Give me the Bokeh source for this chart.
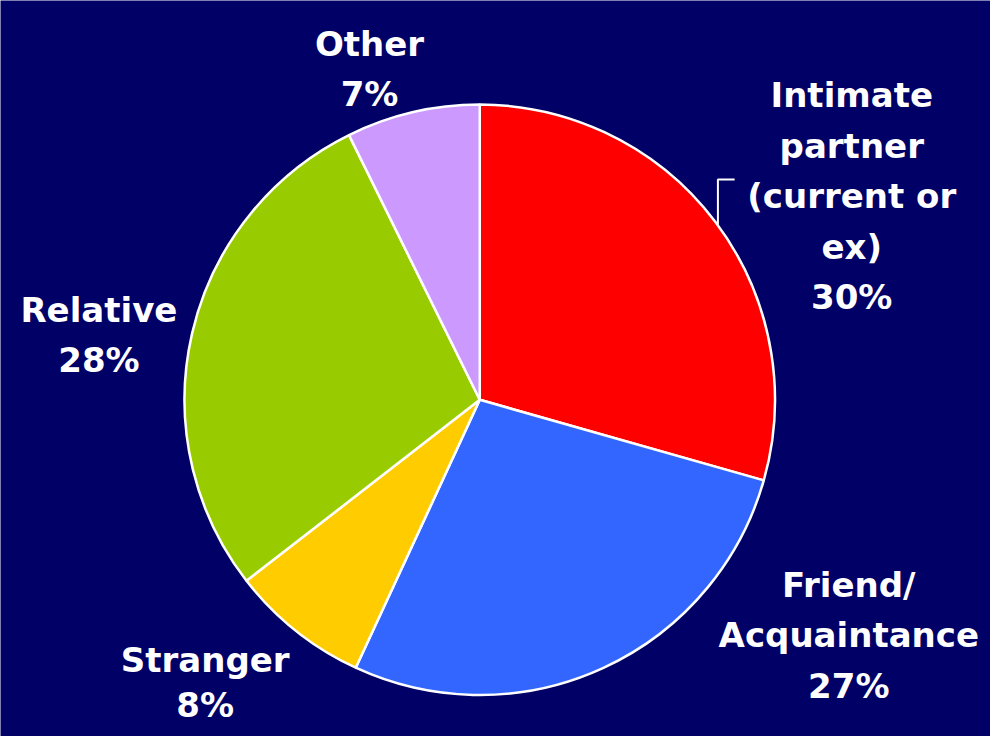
import math
from bokeh.plotting import figure
from bokeh.models import Range1d, ColumnDataSource
from bokeh.core.properties import value
from bokeh.embed import file_html
from bokeh.resources import INLINE

# ---- data ----
categories = ["Intimate partner (current or ex)", "Friend/Acquaintance", "Stranger", "Relative", "Other"]
shares = [29.4, 27.5, 7.6, 28.2, 7.3]
pct_labels = ["30%", "27%", "8%", "28%", "7%"]
label_lines = [
    ["Intimate", "partner", "(current or", "ex)"],
    ["Friend/", "Acquaintance"],
    ["Stranger"],
    ["Relative"],
    ["Other"],
]
colors = ["#FF0000", "#3366FF", "#FFCC00", "#99CC00", "#CC99FF"]

# ---- layout (reference pixel coords) ----
BG = "#000066"
W, H = 1006, 752
cx, cy, R = 487, 408, 300
label_pos = [  # (center x, first baseline y, line gap)
    (865, 97, 51.5),
    (862, 597, 51.5),
    (208, 674, 46),
    (100, 316, 51.5),
    (375, 44, 51.5),
]

def Y(y):
    return H - y

p = figure(width=990, height=736, x_range=Range1d(0, W), y_range=Range1d(0, H),
           output_backend="svg", toolbar_location=None, min_border=0,
           background_fill_color=BG, border_fill_color=BG, outline_line_color=None)
p.axis.visible = False
p.grid.visible = False

total = sum(shares)
starts, ends = [], []
acc = 0.0
for v in shares:
    starts.append(math.pi / 2 - 2 * math.pi * acc / total)
    acc += v
    ends.append(math.pi / 2 - 2 * math.pi * acc / total)

src = ColumnDataSource(dict(x=[cx] * len(shares), y=[Y(cy)] * len(shares),
                            start=starts, end=ends, color=colors, cat=categories))
p.wedge(x="x", y="y", radius=R, start_angle="start", end_angle="end", direction="clock",
        fill_color="color", line_color="white", line_width=2.5, source=src)

# labels
tx, ty, tt = [], [], []
for (lx, ly, gap), lines, pct in zip(label_pos, label_lines, pct_labels):
    for i, t in enumerate(lines + [pct]):
        tx.append(lx)
        ty.append(Y(ly + i * gap))
        tt.append(t)
p.text(x=tx, y=ty, text=tt, text_align="center", text_baseline="alphabetic",
       text_color="white", text_font=value("DejaVu Sans"), text_font_style="bold",
       text_font_size="34px")

# leader line for the intimate partner label
p.line(x=[729, 729, 746], y=[Y(229), Y(183), Y(183)], line_color="white", line_width=2)

html = file_html(p, INLINE)
html = html.replace("<body>", '<body style="background:%s">' % BG, 1)
open("out.html", "w").write(html)
